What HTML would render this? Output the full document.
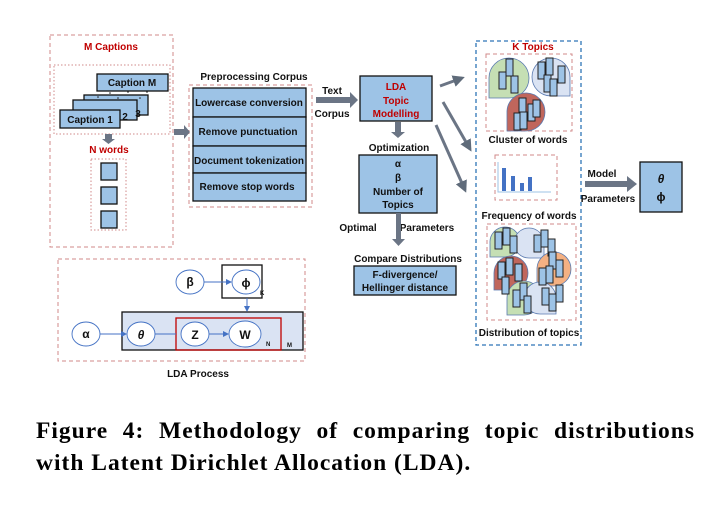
<!DOCTYPE html>
<html><head><meta charset="utf-8"><style>
body{margin:0;background:#fff;width:723px;height:514px;overflow:hidden}
svg text{font-family:"Liberation Sans",sans-serif;font-weight:bold}
.cap{position:absolute;left:36px;width:659px;font-family:"Liberation Serif",serif;font-weight:bold;font-size:23.5px;letter-spacing:1px;line-height:32px;white-space:nowrap}
</style></head><body>
<svg width="723" height="514" style="position:absolute;left:0;top:0">
<defs>
<marker id="ab" markerWidth="6" markerHeight="6" refX="5" refY="3" orient="auto"><path d="M0,0L6,3L0,6z" fill="#4472c4"/></marker>
<marker id="ag" markerWidth="4" markerHeight="4" refX="3" refY="2" orient="auto"><path d="M0,0L4,2L0,4z" fill="#5f6b7a"/></marker>
<g id="w"><rect width="7" height="17" fill="#9dc3e6" stroke="#222" stroke-width="1"/></g>
</defs>
<g fill="none" stroke="#d08a8a" stroke-dasharray="4,3" stroke-width="1">
<rect x="50" y="35" width="123" height="212"/>
<rect x="189" y="85" width="123" height="122"/>
<rect x="58" y="259" width="247" height="102"/>
<rect x="486" y="54" width="86" height="77"/>
<rect x="495" y="155" width="62" height="45"/>
<rect x="487" y="224" width="89" height="96"/>
</g>
<g fill="none" stroke="#d08a8a" stroke-dasharray="1.5,2" stroke-width="1">
<rect x="54" y="65" width="116" height="69"/>
<rect x="91" y="159" width="35" height="71"/>
</g>
<rect x="476" y="41" width="105" height="304" fill="none" stroke="#2e75b6" stroke-dasharray="4,3" stroke-width="1.3"/>
<g fill="#9dc3e6" stroke="#111" stroke-width="1.3">
<rect x="97" y="74" width="71" height="17"/>
<rect x="84" y="95" width="64" height="20"/>
<rect x="73" y="100" width="64" height="20"/>
<rect x="60" y="110" width="60" height="18"/>
<rect x="101" y="163" width="16" height="17"/><rect x="101" y="187" width="16" height="17"/><rect x="101" y="211" width="16" height="17"/>
<rect x="193" y="88" width="113" height="29"/><rect x="193" y="117" width="113" height="29"/><rect x="193" y="146" width="113" height="27"/><rect x="193" y="173" width="113" height="28"/>
<rect x="360" y="76" width="72" height="45"/>
<rect x="359" y="155" width="78" height="58"/>
<rect x="354" y="266" width="102" height="29"/>
<rect x="640" y="162" width="42" height="50"/>
</g>
<g font-size="10" text-anchor="middle" fill="#c00000">
<text x="111" y="50">M Captions</text><text x="109" y="153">N words</text><text x="533" y="50">K Topics</text>
<text x="396" y="90">LDA</text><text x="396" y="104">Topic</text><text x="396" y="117">Modelling</text>
</g>
<g font-size="10" fill="#111" text-anchor="middle">
<text x="132" y="86">Caption M</text><text x="138" y="117">3</text><text x="125" y="120">2</text><text x="90" y="123">Caption 1</text>
<text x="254" y="80">Preprocessing Corpus</text>
<text x="249" y="106">Lowercase conversion</text><text x="248" y="135">Remove punctuation</text><text x="249" y="164">Document tokenization</text><text x="247" y="190">Remove stop words</text>
<text x="332" y="94">Text</text><text x="332" y="117">Corpus</text>
<text x="399" y="151">Optimization</text>
<text x="398" y="167">α</text><text x="398" y="181">β</text><text x="398" y="195">Number of</text><text x="398" y="208">Topics</text>
<text x="358" y="231">Optimal</text><text x="427" y="231">Parameters</text>
<text x="408" y="262">Compare Distributions</text>
<text x="405" y="278">F-divergence/</text><text x="405" y="291">Hellinger distance</text>
<text x="528" y="143">Cluster of words</text><text x="529" y="219">Frequency of words</text><text x="529" y="336">Distribution of topics</text>
<text x="602" y="177">Model</text><text x="608" y="202">Parameters</text>
<text x="661" y="183" font-style="italic" font-size="12">θ</text><text x="661" y="201" font-size="12">ϕ</text>
<text x="198" y="377">LDA Process</text>
</g>
<g fill="#222"><circle cx="110" cy="93" r=".8"/><circle cx="98" cy="97" r=".8"/><circle cx="128" cy="92" r=".8"/><circle cx="118" cy="98" r=".8"/><circle cx="147" cy="92" r=".8"/><circle cx="140" cy="98" r=".8"/></g>
<g fill="#6b7585">
<path d="M105,134h7v5h3l-6.5,5l-6.5,-5h3z"/>
<path d="M174,129h10v-4l6,7l-6,7v-4h-10z"/>
<path d="M316,97h34v-5l8,8l-8,8v-5h-34z"/>
<path d="M395,122h6v10h4l-7,6l-7,-6h4z"/>
<path d="M396,213h5v26h4l-6.5,7l-6.5,-7h4z"/>
<path d="M585,181h42v-5l10,8l-10,8v-5h-42z"/>
</g>
<g stroke="#6b7585" stroke-width="3" marker-end="url(#ag)">
<line x1="440" y1="86" x2="462" y2="78"/><line x1="443" y1="102" x2="470" y2="149"/><line x1="436" y1="125" x2="465" y2="190"/>
</g>
<g stroke="#5a7ab0" stroke-width=".8">
<path d="M489,98 v-20 a20,20 0 1 1 20,20z" fill="#c5dfb4"/>
<path d="M570,96 h-19 a19,19 0 1 1 19,-19z" fill="#dae3f3"/>
<path d="M507,131 v-20 a19,19 0 1 1 19,20z" fill="#c0665c"/>
</g>
<g><use href="#w" x="506" y="59"/><use href="#w" x="499" y="72"/><use href="#w" x="511" y="76"/>
<use href="#w" x="538" y="62"/><use href="#w" x="546" y="58"/><use href="#w" x="544" y="75"/><use href="#w" x="558" y="66"/><use href="#w" x="550" y="79"/>
<use href="#w" x="519" y="98"/><use href="#w" x="528" y="104"/><use href="#w" x="533" y="100"/><use href="#w" x="514" y="113"/><use href="#w" x="520" y="112"/></g>
<g fill="#4472c4"><rect x="502" y="168" width="4" height="23"/><rect x="511" y="176" width="4" height="15"/><rect x="520" y="183" width="4" height="8"/><rect x="528" y="177" width="4" height="14"/></g>
<path d="M498,162 v30 h53" fill="none" stroke="#9dc3e6"/>
<g stroke="#5a7ab0" stroke-width=".8">
<path d="M490,257 v-14 a15,15 0 1 1 15,14z" fill="#c5dfb4"/>
<path d="M529,258 a15,15 0 1 1 15,-15 v15z" fill="#dae3f3"/>
<path d="M494,290 v-17 a17,17 0 1 1 17,17z" fill="#c0665c"/>
<path d="M537,286 v-18 a17,17 0 1 1 17,18z" fill="#f4b183"/>
<path d="M507,315 v-17 a17,17 0 1 1 17,17z" fill="#c5dfb4"/>
<path d="M540,314 a16,16 0 1 1 16,-16 v16z" fill="#dae3f3"/>
</g>
<g><use href="#w" x="495" y="232"/><use href="#w" x="503" y="228"/><use href="#w" x="510" y="236"/>
<use href="#w" x="534" y="235"/><use href="#w" x="541" y="230"/><use href="#w" x="548" y="239"/>
<use href="#w" x="498" y="262"/><use href="#w" x="506" y="258"/><use href="#w" x="502" y="277"/><use href="#w" x="515" y="264"/>
<use href="#w" x="549" y="252"/><use href="#w" x="556" y="260"/><use href="#w" x="546" y="266"/><use href="#w" x="539" y="268"/>
<use href="#w" x="513" y="290"/><use href="#w" x="520" y="283"/><use href="#w" x="524" y="296"/>
<use href="#w" x="542" y="288"/><use href="#w" x="549" y="294"/><use href="#w" x="556" y="285"/></g>
<rect x="122" y="312" width="181" height="38" fill="#dae3f3" stroke="#111" stroke-width="1.3"/>
<rect x="176" y="318" width="105" height="32" fill="none" stroke="#c00000" stroke-width="1.3"/>
<rect x="222" y="265" width="40" height="33" fill="#fff" stroke="#111" stroke-width="1.3"/>
<g fill="#fff" stroke="#4472c4" stroke-width=".9">
<ellipse cx="190" cy="282" rx="14" ry="12"/><ellipse cx="246" cy="282" rx="14" ry="12"/>
<ellipse cx="86" cy="334" rx="14" ry="12"/><ellipse cx="141" cy="334" rx="14" ry="12"/><ellipse cx="195" cy="334" rx="14" ry="12"/><ellipse cx="245" cy="334" rx="16" ry="13"/>
</g>
<g stroke="#4472c4" stroke-width="1" marker-end="url(#ab)">
<line x1="204" y1="282" x2="231" y2="282"/><line x1="247" y1="298" x2="247" y2="311"/>
<line x1="100" y1="334" x2="126" y2="334"/><line x1="209" y1="334" x2="228" y2="334"/>
</g>
<line x1="155" y1="334" x2="176" y2="334" stroke="#4472c4"/>
<g font-size="12" text-anchor="middle" fill="#111">
<text x="190" y="286">β</text><text x="246" y="287">ϕ</text><text x="86" y="338">α</text><text x="141" y="339" font-style="italic">θ</text><text x="195" y="339">Z</text><text x="245" y="339">W</text>
</g>
<g font-size="6" fill="#111"><text x="260" y="295">K</text><text x="266" y="346">N</text><text x="287" y="347">M</text></g>
</svg>
<div class="cap" style="top:415px;text-align:justify;text-align-last:justify">Figure 4: Methodology of comparing topic distributions</div>
<div class="cap" style="top:447px">with Latent Dirichlet Allocation (LDA).</div>
</body></html>
